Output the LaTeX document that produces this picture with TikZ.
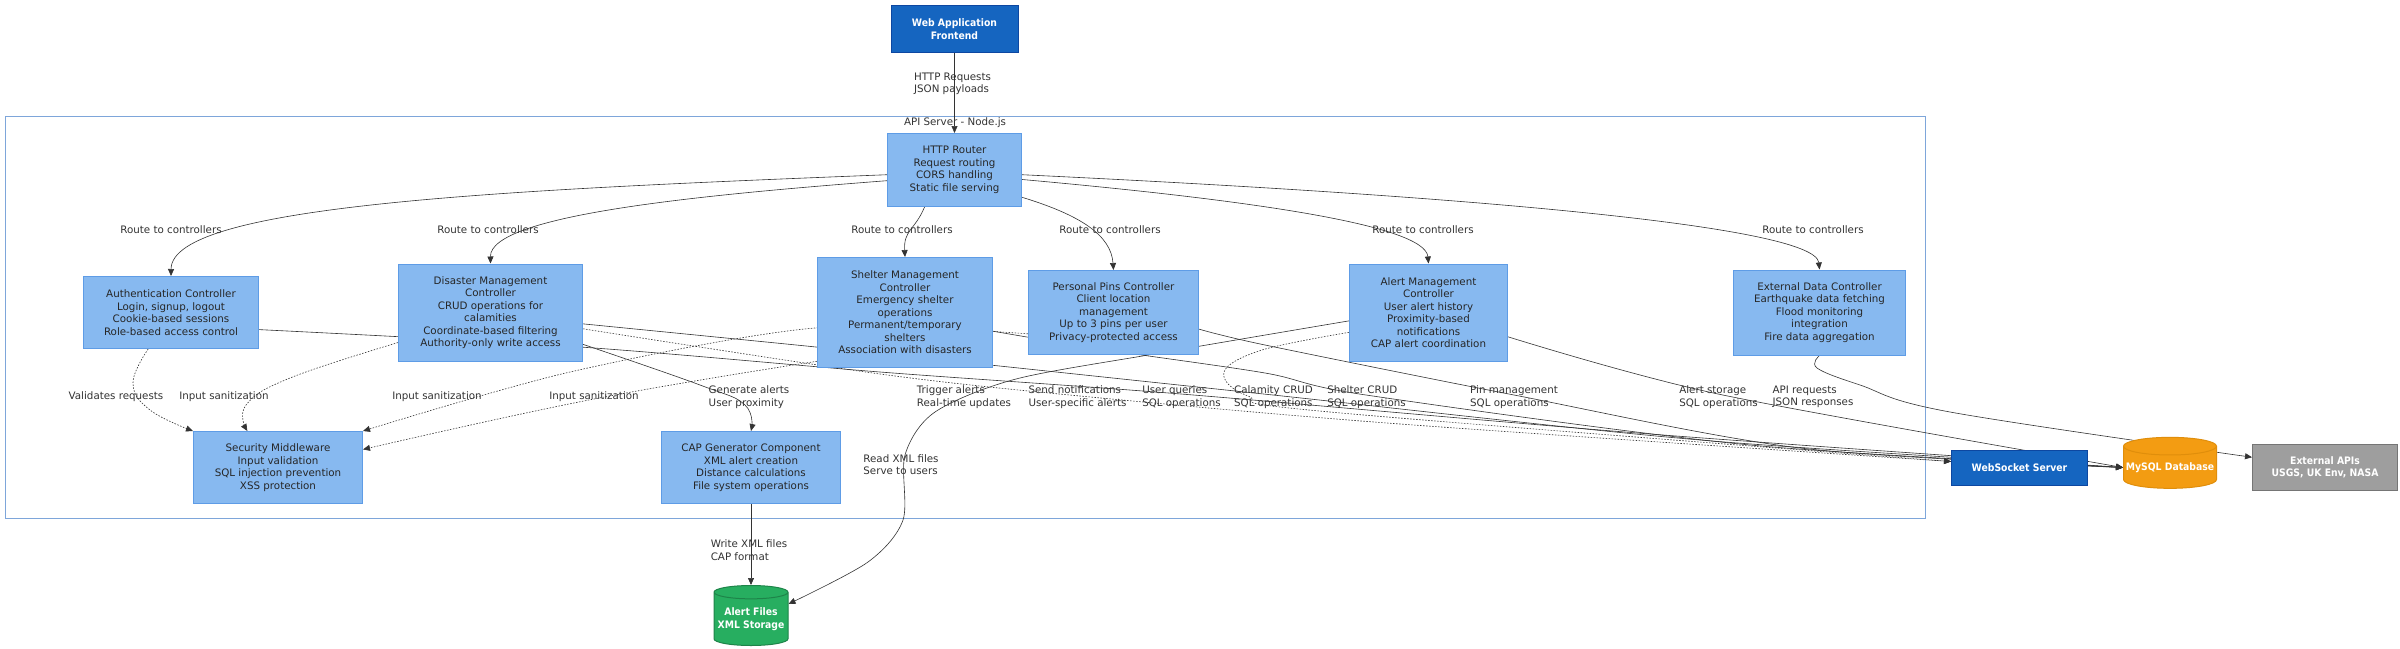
\documentclass[tikz,border=0pt]{standalone}
\usepackage{fontspec}
\setmainfont{DejaVu Sans}
\newfontfamily\condfont{DejaVu Sans Condensed}
\usepackage{tikz}
\usetikzlibrary{positioning,shapes.geometric,arrows.meta,backgrounds}
\usepackage{xcolor}
\definecolor{ctrlFill}{HTML}{87B9F0}
\definecolor{ctrlEdge}{HTML}{5E9CE6}
\definecolor{darkFill}{HTML}{1565C0}
\definecolor{darkEdge}{HTML}{0D47A1}
\definecolor{dbFill}{HTML}{F39C12}
\definecolor{dbEdge}{HTML}{E08E0B}
\definecolor{fileFill}{HTML}{27AE60}
\definecolor{fileEdge}{HTML}{1E8449}
\definecolor{apiFill}{HTML}{9E9E9E}
\definecolor{apiEdge}{HTML}{757575}
\definecolor{clusterEdge}{HTML}{7EA6DA}
\definecolor{lineGray}{HTML}{333333}

\begin{document}
\begin{tikzpicture}[x=1pt,y=-1pt,>={Triangle[length=7pt,width=6pt]},
		ctrl node/.style={rectangle,draw=ctrlEdge,fill=ctrlFill,line width=1pt,align=center,inner sep=0pt,
			text=black!85,font=\fontsize{10.3}{12.5}\selectfont},
		dark node/.style={ctrl node,draw=darkEdge,fill=darkFill,text=white,font=\condfont\bfseries\fontsize{10.3}{12.5}\selectfont},
		api node/.style={dark node,draw=apiEdge,fill=apiFill},
		db node/.style={cylinder,shape border rotate=90,aspect=0.2,draw=dbEdge,fill=dbFill,line width=1pt,inner sep=0pt,
			align=center,text=white,font=\condfont\bfseries\fontsize{10.3}{12.5}\selectfont,minimum width=93pt,minimum height=51pt},
		file node/.style={db node,draw=fileEdge,fill=fileFill,minimum width=74pt,minimum height=60pt},
		lbl node/.style={align=left,inner sep=0pt,text=black!80,font=\fontsize{10.3}{12.5}\selectfont},
		flow/.style={->,draw=lineGray,line width=0.6pt},
		dot flow/.style={flow,dash pattern=on 1.5pt off 1.5pt}]
	\useasboundingbox (0,0) rectangle (2400,648);
	% Nodes
	\node[dark node,minimum width=127pt,minimum height=47pt] (fe) at (954.5,29) {Web Application\\Frontend};
	\node[ctrl node,minimum width=134pt,minimum height=73pt] (router) [below=80pt of fe] {HTTP Router\\Request routing\\CORS handling\\Static file serving};
	\node[ctrl node,minimum width=175pt,minimum height=72pt] (auth) [below left=69pt and 628pt of router] {Authentication Controller\\Login, signup, logout\\Cookie-based sessions\\Role-based access control};
	\node[ctrl node,minimum width=184pt,minimum height=97pt] (disaster) [right=139pt of auth] {Disaster Management\\Controller\\CRUD operations for\\calamities\\Coordinate-based filtering\\Authority-only write access};
	\node[ctrl node,minimum width=175pt,minimum height=110pt] (shelter) [right=234pt of disaster] {Shelter Management\\Controller\\Emergency shelter\\operations\\Permanent/temporary\\shelters\\Association with disasters};
	\node[ctrl node,minimum width=170pt,minimum height=84pt] (pins) [right=35pt of shelter] {Personal Pins Controller\\Client location\\management\\Up to 3 pins per user\\Privacy-protected access};
	\node[ctrl node,minimum width=158pt,minimum height=97pt] (alert) [right=150pt of pins] {Alert Management\\Controller\\User alert history\\Proximity-based\\notifications\\CAP alert coordination};
	\node[ctrl node,minimum width=172pt,minimum height=85pt] (ext) [right=225pt of alert] {External Data Controller\\Earthquake data fetching\\Flood monitoring\\integration\\Fire data aggregation};
	\node[ctrl node,minimum width=169pt,minimum height=72pt] (security) [below=82pt of auth,xshift=107pt] {Security Middleware\\Input validation\\SQL injection prevention\\XSS protection};
	\node[ctrl node,minimum width=179pt,minimum height=72pt] (cap) [right=298pt of security] {CAP Generator Component\\XML alert creation\\Distance calculations\\File system operations};
	\node[file node] (files) [below=81pt of cap] {Alert Files\\XML Storage};
	\node[dark node,minimum width=136pt,minimum height=35pt] (ws) [right=1110pt of cap] {WebSocket Server};
	\node[db node] (db) [right=35pt of ws] {MySQL Database};
	\node[api node,minimum width=145pt,minimum height=46pt] (extapi) [right=35pt of db] {External APIs\\USGS, UK Env, NASA};

	% Labels
	\node[lbl node] (srvtitle) at (955,123) {API Server - Node.js};
	\node[lbl node] (httplbl) at (952.5,84) {HTTP Requests\\JSON payloads};
	\foreach \x/\n in {171/1,488/2,902/3,1110/4,1423/5,1813/6}
		\node[lbl node] (route\n) at (\x,230) {Route to controllers};
	\node[lbl node] (vallbl) at (116,397) {Validates requests};
	\foreach \x/\n in {224/1,437/2,594/3}
		\node[lbl node] (san\n) at (\x,397) {Input sanitization};
	\node[lbl node] (genlbl) at (749,397) {Generate alerts\\User proximity};
	\node[lbl node] (triglbl) at (964,397) {Trigger alerts\\Real-time updates};
	\node[lbl node] (sendlbl) at (1077.5,397) {Send notifications\\User-specific alerts};
	\node[lbl node] (uqlbl) at (1181.5,397) {User queries\\SQL operations};
	\node[lbl node] (callbl) at (1273.5,397) {Calamity CRUD\\SQL operations};
	\node[lbl node] (shclbl) at (1366.5,397) {Shelter CRUD\\SQL operations};
	\node[lbl node] (pinlbl) at (1514,397) {Pin management\\SQL operations};
	\node[lbl node] (alslbl) at (1718.5,397) {Alert storage\\SQL operations};
	\node[lbl node] (apilbl) at (1813,397) {API requests\\JSON responses};
	\node[lbl node] (readlbl) at (901,464.5) {Read XML files\\Serve to users};
	\node[lbl node] (writelbl) at (749,550) {Write XML files\\CAP format};

	% Edges
	\begin{scope}[on background layer]
		\fill[white] (0,0) rectangle (2400,648);
		\draw[clusterEdge,fill=white,line width=1pt] (5,116) rectangle (1925,518);
		\draw[flow] (fe) -- (router);
		\draw[flow] (router.184) .. controls (500,190) and (171.5,205) .. (auth.north);
		\draw[flow] (router.189) .. controls (700,195) and (490,215) .. (disaster.north);
		\draw[flow] (router.231) .. controls (915,230) and (903.5,230) .. (shelter.north);
		\draw[flow] (router.-22) .. controls (1080,215) and (1111,235) .. (pins.north);
		\draw[flow] (router.-8) .. controls (1250,200) and (1425,225) .. (alert.north);
		\draw[flow] (router.-4) .. controls (1450,195) and (1815,225) .. (ext.north);
		\draw[dot flow] plot[smooth,tension=0.7] coordinates {(auth.238) (133,383) (150,410) (security.north west)};
		\draw[dot flow] plot[smooth,tension=0.7] coordinates {(disaster.198) (290,378) (246,405) (security.130)};
		\draw[dot flow] plot[smooth,tension=0.7] coordinates {(shelter.209) (594,399) (security.12)};
		\draw[dot flow] plot[smooth,tension=0.5] coordinates {(pins.194) (815,328) (570,372) (security.north east)};
		\draw[flow] plot[smooth,tension=0.7] coordinates {(disaster.-19) (700,385) (745,405) (cap.north)};
		\draw[dot flow] plot[smooth,tension=0.5] coordinates {(disaster.-10) (880,374) (1080,396) (1400,424) (ws.175)};
		\draw[dot flow] plot[smooth,tension=0.6] coordinates {(alert.194) (1262,350) (1224,372) (1248,396) (1330,412) (ws.175)};
		\draw[flow] plot[smooth,tension=0.5] coordinates {(auth.-11) (580,347) (880,372) (1181,394) (1650,434) (db.west)};
		\draw[flow] plot[smooth,tension=0.5] coordinates {(disaster.-7) (816,347) (990,365) (1273,395) (1700,440) (db.west)};
		\draw[flow] plot[smooth,tension=0.5] coordinates {(shelter.-12) (1100,349) (1265,373) (1366,395) (1750,445) (db.west)};
		\draw[flow] plot[smooth,tension=0.5] coordinates {(pins.-11) (1265,345) (1514,395) (1800,448) (db.west)};
		\draw[flow] plot[smooth,tension=0.5] coordinates {(alert.-17) (1718,394) (db.west)};
		\draw[flow] plot[smooth,tension=0.5] coordinates {(alert.186) (1160,353) (1016,379) (935,412) (905,455) (903,520) (868,562) (files.22)};
		\draw[flow] (cap) -- (files);
		\draw[flow] plot[smooth,tension=0.6] coordinates {(ext.south) (1817,368) (1860,385) (1950,412) (extapi.172)};
	\end{scope}
\end{tikzpicture}
\end{document}
